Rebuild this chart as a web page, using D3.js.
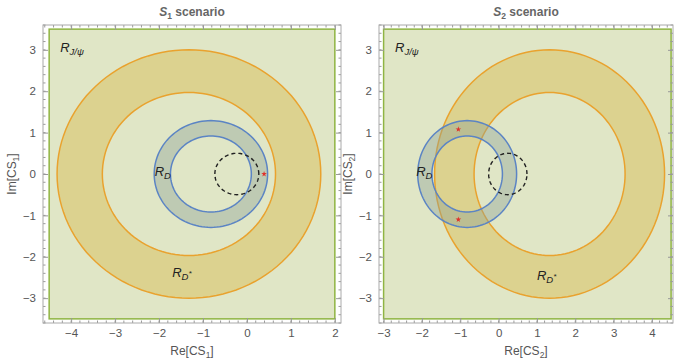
<!DOCTYPE html>
<html>
<head>
<meta charset="utf-8">
<script src="https://cdn.jsdelivr.net/npm/d3@7"></script>
<style>
  body { margin: 0; background: #fff; }
  text { font-family: "Liberation Sans", Arial, sans-serif; }
</style>
</head>
<body>
<svg id="chart" width="674" height="360"></svg>
<script>
// scenario titles / axis names
const scenarios = ['1', '2'];
const xDomains = [[-4.64, 2.14], [-3.12, 4.55]];
const yDomain = [-3.6, 3.6];
const xTicks = [[-4, -3, -2, -1, 0, 1, 2], [-3, -2, -1, 0, 1, 2, 3, 4]];
const yTicks = [-3, -2, -1, 0, 1, 2, 3];

// allowed box (green)
const boxX = [[-4.5, 2], [-3, 4.5]];
const boxY = [-3.5, 3.5];

// R_J/psi annulus (orange)
const jpsiCenterX = [-1.32, 1.33];
const jpsiRadii = [1.97, 3.0];

// R_D annulus (blue)
const rdCenterX = [-0.82, -0.82];
const rdRadii = [0.92, 1.29];

// dashed circle
const dashCenterX = [-0.23, 0.24];
const dashRadius = 0.5;

// best-fit points
const stars = [
  [[0.39, 0]],
  [[-1.05, 1.08], [-1.05, -1.1]]
];

// label anchors [x, y] in data units
const labelJpsi = [[-4.25, 2.95], [-2.7, 2.95]];
const labelRD = [[-2.1, -0.05], [-2.15, -0.05]];
const labelRDs = [[-1.7, -2.5], [1.0, -2.55]];

const margin = { top: 25, bottom: 37 };
const panelX = [[43, 341], [379, 673]];

const svg = d3.select('#chart');

function ring(x, y, cx, cy, r) {
  const pts = d3.range(0, 361, 3).map(a => {
    const t = a * Math.PI / 180;
    return [x(cx + r * Math.cos(t)), y(cy + r * Math.sin(t))];
  });
  return d3.line()(pts) + 'Z';
}

function rLabel(g, x, y, pos, sub, star) {
  const t = g.append('text')
    .attr('x', x(pos[0]))
    .attr('y', y(pos[1]))
    .attr('fill', '#222')
    .style('font-style', 'italic')
    .style('font-size', '13px');
  t.append('tspan').text('R');
  t.append('tspan').attr('dy', 3).style('font-size', '9.5px').text(sub);
  if (star) t.append('tspan').attr('dy', -4).style('font-size', '8px').text('*');
}

scenarios.forEach((s, i) => {
  const x = d3.scaleLinear().domain(xDomains[i]).range(panelX[i]);
  const y = d3.scaleLinear().domain(yDomain).range([360 - margin.bottom, margin.top]);
  const g = svg.append('g');
  const midX = (panelX[i][0] + panelX[i][1]) / 2;

  // green box
  g.append('rect')
    .attr('x', x(boxX[i][0]))
    .attr('y', y(boxY[1]))
    .attr('width', x(boxX[i][1]) - x(boxX[i][0]))
    .attr('height', y(boxY[0]) - y(boxY[1]))
    .attr('fill', '#e0e6c6')
    .attr('stroke', '#8fb442')
    .attr('stroke-width', 1.5);

  // orange annulus
  g.append('path')
    .attr('d', ring(x, y, jpsiCenterX[i], 0, jpsiRadii[1]) + ring(x, y, jpsiCenterX[i], 0, jpsiRadii[0]))
    .attr('fill-rule', 'evenodd')
    .attr('fill', 'rgba(215,180,60,0.4)')
    .attr('stroke', '#e9a22e')
    .attr('stroke-width', 1.5);

  // blue annulus
  g.append('path')
    .attr('d', ring(x, y, rdCenterX[i], 0, rdRadii[1]) + ring(x, y, rdCenterX[i], 0, rdRadii[0]))
    .attr('fill-rule', 'evenodd')
    .attr('fill', 'rgba(140,160,150,0.4)')
    .attr('stroke', '#5b84c4')
    .attr('stroke-width', 1.5);

  // dashed circle
  g.append('path')
    .attr('d', ring(x, y, dashCenterX[i], 0, dashRadius))
    .attr('fill', 'none')
    .attr('stroke', '#222')
    .attr('stroke-width', 1.4)
    .attr('stroke-dasharray', '4,3');

  // stars
  g.selectAll('.star')
    .data(stars[i])
    .enter()
    .append('path')
    .attr('class', 'star')
    .attr('transform', d => `translate(${x(d[0])},${y(d[1])})`)
    .attr('d', d3.symbol().type(d3.symbolStar).size(10))
    .attr('fill', '#e0302a');

  // labels
  rLabel(g, x, y, labelJpsi[i], 'J/ψ', false);
  rLabel(g, x, y, labelRD[i], 'D', false);
  rLabel(g, x, y, labelRDs[i], 'D', true);

  // frame + ticks
  const y0 = y.range()[0], y1 = y.range()[1];
  const minorX = d3.range(Math.ceil(xDomains[i][0] * 5), Math.floor(xDomains[i][1] * 5) + 1).map(v => v / 5);
  const minorY = d3.range(Math.ceil(yDomain[0] * 5), Math.floor(yDomain[1] * 5) + 1).map(v => v / 5);
  const tickCol = '#999';

  const axB = d3.axisBottom(x).tickValues(xTicks[i]).tickSizeInner(-5).tickSizeOuter(0)
    .tickFormat(d => d < 0 ? '\u2212' + Math.abs(d) : d).tickPadding(6);
  const gb = g.append('g').attr('transform', `translate(0,${y0})`).call(axB);
  const axT = d3.axisTop(x).tickValues(xTicks[i]).tickSizeInner(-5).tickSizeOuter(0).tickFormat('');
  const gt = g.append('g').attr('transform', `translate(0,${y1})`).call(axT);
  const axL = d3.axisLeft(y).tickValues(yTicks).tickSizeInner(-5).tickSizeOuter(0)
    .tickFormat(d => d < 0 ? '\u2212' + Math.abs(d) : d).tickPadding(7);
  const gl = g.append('g').attr('transform', `translate(${panelX[i][0]},0)`).call(axL);
  const axR = d3.axisRight(y).tickValues(yTicks).tickSizeInner(-5).tickSizeOuter(0).tickFormat('');
  const gr = g.append('g').attr('transform', `translate(${panelX[i][1]},0)`).call(axR);

  // minor ticks
  gb.selectAll('.mx').data(minorX).enter().append('line')
    .attr('x1', d => x(d)).attr('x2', d => x(d)).attr('y1', 0).attr('y2', -2.5).attr('stroke', tickCol);
  gt.selectAll('.mx').data(minorX).enter().append('line')
    .attr('x1', d => x(d)).attr('x2', d => x(d)).attr('y1', 0).attr('y2', 2.5).attr('stroke', tickCol);
  gl.selectAll('.my').data(minorY).enter().append('line')
    .attr('y1', d => y(d)).attr('y2', d => y(d)).attr('x1', 0).attr('x2', 2.5).attr('stroke', tickCol);
  gr.selectAll('.my').data(minorY).enter().append('line')
    .attr('y1', d => y(d)).attr('y2', d => y(d)).attr('x1', 0).attr('x2', -2.5).attr('stroke', tickCol);

  [gb, gt, gl, gr].forEach(a => {
    a.select('.domain').remove();
    a.selectAll('.tick line').attr('stroke', tickCol);
    a.selectAll('text').attr('fill', '#555').style('font-size', '11.5px')
      .style('font-family', '"Liberation Sans", Arial, sans-serif');
  });

  g.append('rect')
    .attr('x', panelX[i][0]).attr('y', y1)
    .attr('width', panelX[i][1] - panelX[i][0]).attr('height', y0 - y1)
    .attr('fill', 'none').attr('stroke', '#aaa').attr('stroke-width', 1);

  // title
  const title = g.append('text')
    .attr('x', midX).attr('y', 16)
    .attr('text-anchor', 'middle')
    .attr('fill', '#666')
    .style('font-size', '12px')
    .style('font-weight', 'bold');
  title.append('tspan').style('font-style', 'italic').text('S');
  title.append('tspan').attr('dy', 3).style('font-size', '8.5px').text(s);
  title.append('tspan').attr('dy', -3).text(' scenario');

  // x label
  const xl = g.append('text')
    .attr('x', midX).attr('y', 355)
    .attr('text-anchor', 'middle')
    .attr('fill', '#555')
    .style('font-size', '12px');
  xl.append('tspan').text('Re[CS');
  xl.append('tspan').attr('dy', 3).style('font-size', '8.5px').text(s);
  xl.append('tspan').attr('dy', -3).text(']');

  // y label
  const yl = g.append('text')
    .attr('transform', `translate(${panelX[i][0] - 27},${y(0)}) rotate(-90)`)
    .attr('text-anchor', 'middle')
    .attr('fill', '#555')
    .style('font-size', '12px');
  yl.append('tspan').text('Im[CS');
  yl.append('tspan').attr('dy', 3).style('font-size', '8.5px').text(s);
  yl.append('tspan').attr('dy', -3).text(']');
});
</script>
</body>
</html>
